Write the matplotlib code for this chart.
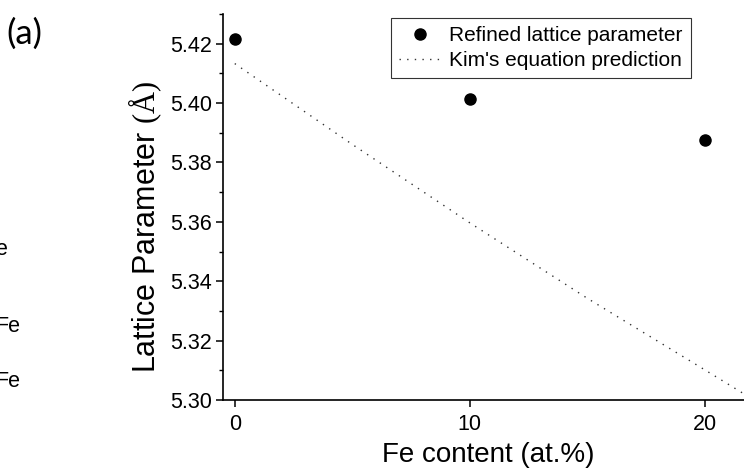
import matplotlib
matplotlib.use("Agg")
import matplotlib.pyplot as plt
from matplotlib.ticker import MultipleLocator, AutoMinorLocator

plt.rcParams["font.family"] = ["Liberation Sans", "DejaVu Sans"]
plt.rcParams["mathtext.fontset"] = "custom"
plt.rcParams["mathtext.rm"] = "Liberation Serif"

# refined lattice parameter (Rietveld) vs Fe content
fe_refined = [0, 10, 20]
a_refined = [5.4216, 5.4013, 5.3874]

# Kim's equation prediction
fe_kim = [0, 5, 10, 15, 20, 22]
a_kim = [5.4133, 5.3861, 5.3597, 5.3343, 5.3102, 5.3005]

W, H = 744, 468
fig = plt.figure(figsize=(W / 100, H / 100), dpi=100)
# axes run past the right edge of the picture (panel is cropped)
ax = fig.add_axes([223 / W, 68 / H, 599 / W, 386 / H])

ax.plot(fe_kim, a_kim, color="#333333", lw=1.0, ls=(0, (1, 4.5)),
        label="Kim's equation prediction")
ax.plot(fe_refined, a_refined, "o", color="black", ms=8,
        label="Refined lattice parameter")

ax.set_xlim(-0.5, 25)
ax.set_ylim(5.30, 5.43)
ax.xaxis.set_major_locator(MultipleLocator(10))
ax.yaxis.set_major_locator(MultipleLocator(0.02))
ax.yaxis.set_minor_locator(AutoMinorLocator(2))
ax.yaxis.set_major_formatter(matplotlib.ticker.FormatStrFormatter("%.2f"))
for s in ("top", "right"):
    ax.spines[s].set_visible(False)
for s in ("left", "bottom"):
    ax.spines[s].set_linewidth(1.2)
ax.tick_params(which="major", direction="out", length=5, width=1.1,
               labelsize=15.5, pad=3)
ax.tick_params(axis="x", pad=5)
ax.tick_params(which="minor", direction="out", length=3, width=1.0)

h, l = ax.get_legend_handles_labels()
leg = ax.legend(h[::-1], l[::-1], loc="upper left",
                bbox_to_anchor=(391 / W, 1 - 18 / H), bbox_transform=fig.transFigure,
                fontsize=15, frameon=True, fancybox=False, edgecolor="black",
                handlelength=2.0, handletextpad=0.42, borderpad=0.38,
                labelspacing=0.3, borderaxespad=0)
leg.get_frame().set_linewidth(0.8)

fig.text(488 / W, 1 - 462 / H, "Fe content (at.%)", fontsize=20,
         ha="center", va="baseline")
fig.text(145 / W, 1 - 227 / H, r"Lattice Parameter $\mathrm{(Å)}$", fontsize=22,
         rotation=90, ha="center", va="center")

# panel tag and clipped text from the neighbouring panel
fig.text(6 / W, 1 - 44 / H, "(a)", fontsize=25, family=["Lato", "DejaVu Sans"],
         ha="left", va="baseline")
fig.text(7 / W, 1 - 255 / H, "e", fontsize=15.5, ha="right", va="baseline")
fig.text(20 / W, 1 - 332 / H, "Fe", fontsize=15.5, ha="right", va="baseline")
fig.text(20 / W, 1 - 387 / H, "Fe", fontsize=15.5, ha="right", va="baseline")

fig.savefig("out.png", dpi=100)
